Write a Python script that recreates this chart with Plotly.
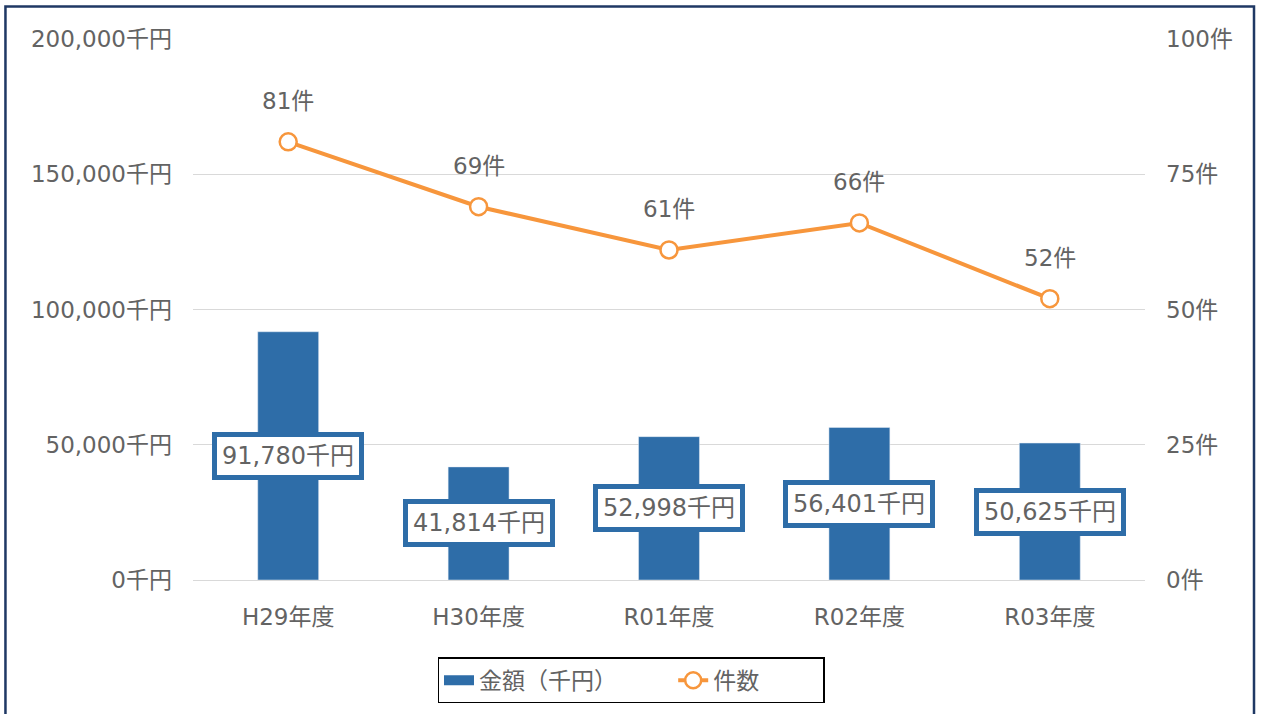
import plotly.graph_objects as go

# 年度別データ
categories = ["H29年度", "H30年度", "R01年度", "R02年度", "R03年度"]
amounts = [91780, 41814, 52998, 56401, 50625]   # 金額（千円）
counts = [81, 69, 61, 66, 52]                    # 件数

left_ticks = [0, 50000, 100000, 150000, 200000]
left_labels = [f"{v:,}千円" for v in left_ticks]
right_ticks = [0, 25, 50, 75, 100]
right_labels = [f"{v}件" for v in right_ticks]

BLUE = "#2E6DA8"
ORANGE = "#F7963C"
GRAY = "#636363"
FONT = "DejaVu Sans, Noto Sans CJK JP"
FS = 23
NB = "\u00a0"

fig = go.Figure()

fig.add_trace(go.Bar(
    x=categories, y=amounts, name="金額（千円）",
    marker=dict(color=BLUE), width=0.32, yaxis="y", showlegend=False,
))

# 凡例用（太い帯）
fig.add_trace(go.Scatter(
    x=[None], y=[None], name="金額（千円）" + NB * 7, mode="lines",
    line=dict(color=BLUE, width=12),
))

fig.add_trace(go.Scatter(
    x=categories, y=counts, name="件数" + NB * 8, yaxis="y2",
    mode="lines+markers",
    line=dict(color=ORANGE, width=4),
    marker=dict(symbol="circle", size=17, color="white",
                line=dict(color=ORANGE, width=2.5)),
))

# 棒グラフのラベル（枠付き）
for c, v in zip(categories, amounts):
    fig.add_annotation(
        x=c, y=v / 2, xref="x", yref="y",
        text=f"{v:,}千円", showarrow=False,
        font=dict(family=FONT, size=24, color=GRAY),
        bgcolor="white", bordercolor=BLUE, borderwidth=5, borderpad=5,
    )

# 折れ線のラベル
for c, n in zip(categories, counts):
    fig.add_annotation(
        x=c, y=n, xref="x", yref="y2", yshift=41,
        text=f"{n}件", showarrow=False,
        font=dict(family=FONT, size=FS, color=GRAY),
    )

# 外枠
fig.add_shape(
    type="rect", xref="paper", yref="paper",
    x0=-0.197, x1=1.1145, y0=-0.27, y1=1.06,
    line=dict(color="#1F3864", width=2.5), fillcolor="rgba(0,0,0,0)",
    layer="below",
)

fig.update_layout(
    width=1262, height=714,
    margin=dict(l=193, r=117, t=39, b=134),
    paper_bgcolor="white", plot_bgcolor="white",
    font=dict(family=FONT, size=FS, color=GRAY),
    bargap=0.68,
    xaxis=dict(
        showgrid=False, showline=True, linecolor="#D9D9D9", linewidth=1,
        ticks="", tickfont=dict(size=FS, color=GRAY), ticklabelstandoff=16,
    ),
    yaxis=dict(
        range=[0, 200000], tickvals=left_ticks, ticktext=left_labels,
        showgrid=True, gridcolor="#D9D9D9", gridwidth=1, zeroline=False,
        tickfont=dict(size=FS, color=GRAY), ticklabelstandoff=20,
    ),
    yaxis2=dict(
        range=[0, 100], tickvals=right_ticks, ticktext=right_labels,
        overlaying="y", side="right", showgrid=False, zeroline=False,
        tickfont=dict(size=FS, color=GRAY), ticklabelstandoff=20,
    ),
    legend=dict(
        orientation="h", xref="container", x=0.5, xanchor="center",
        yref="container", y=0.015, yanchor="bottom",
        bordercolor="black", borderwidth=1.5, bgcolor="white",
        font=dict(family=FONT, size=FS, color=GRAY),
    ),
    showlegend=True,
)

fig.write_html("out.html", config={"displayModeBar": False},
               post_script="document.body.style.margin='0';")
